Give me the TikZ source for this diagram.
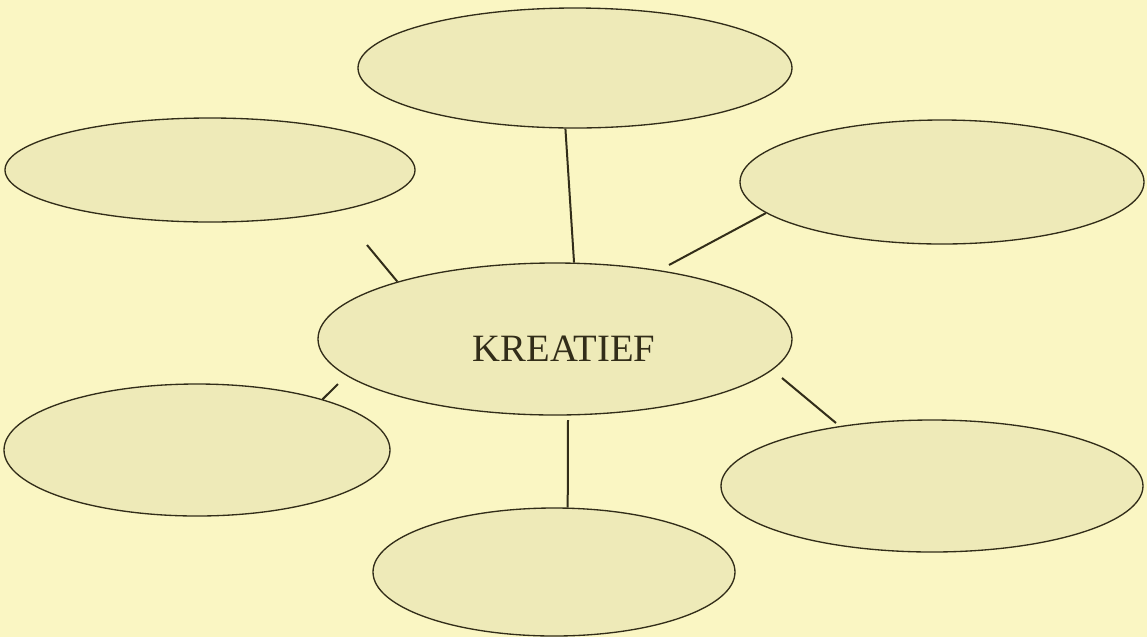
\documentclass[tikz,border=0pt]{standalone}
\usepackage{fontspec}
\setmainfont{Liberation Serif}
\usepackage{xcolor}
\usepackage{tikz}
\usetikzlibrary{shapes, positioning}

\definecolor{paper}{RGB}{250,246,195}
\definecolor{bubblefill}{RGB}{238,234,184}
\definecolor{ink}{RGB}{50,45,25}

\begin{document}
\begin{tikzpicture}[
  x=0.75pt, y=-0.75pt,
  bubble/.style={ellipse, draw=ink, fill=bubblefill, line width=1pt, inner sep=0pt},
  spoke/.style={draw=ink, line width=1.5pt},
  title/.style={font=\fontsize{29}{34}\selectfont, text=ink}
]
  \fill[paper] (0,0) rectangle (1147,637);
  \useasboundingbox (0,0) rectangle (1147,637);

  \node[bubble, minimum width=325.5pt, minimum height=90pt] (top) at (575,68) {};
  \node[bubble, minimum width=307.5pt, minimum height=78pt] (upleft) at (210,170) {};
  \node[bubble, minimum width=303pt, minimum height=93pt] (upright) at (942,182) {};
  \node[bubble, minimum width=355.5pt, minimum height=114pt] (kreatief) at (555,339) {};
  \node[bubble, minimum width=289.5pt, minimum height=99pt] (lowleft) at (197,450) {};
  \node[bubble, minimum width=316.5pt, minimum height=99pt] (lowright) at (932,486) {};
  \node[bubble, minimum width=271.5pt, minimum height=96pt] (bottom) at (554,572) {};
  \node[title] (word) at (564,349) {KREATIEF};

  % free ends of the spokes
  \coordinate (ulend) at (367,245);
  \coordinate (urend) at (669,265);
  \coordinate (llend) at (338,384);
  \coordinate (lrstart) at (782,378);
  \coordinate (lrend) at (836,423);
  \coordinate (btend) at (568,420);

  \draw[spoke] (top.261) -- (kreatief.76);
  \draw[spoke] (ulend) -- (kreatief.160);
  \draw[spoke] (urend) -- (upright.190);
  \draw[spoke] (llend) -- (lowleft.22);
  \draw[spoke] (lrstart) -- (lrend);
  \draw[spoke] (btend) -- (bottom.78);
\end{tikzpicture}
\end{document}
